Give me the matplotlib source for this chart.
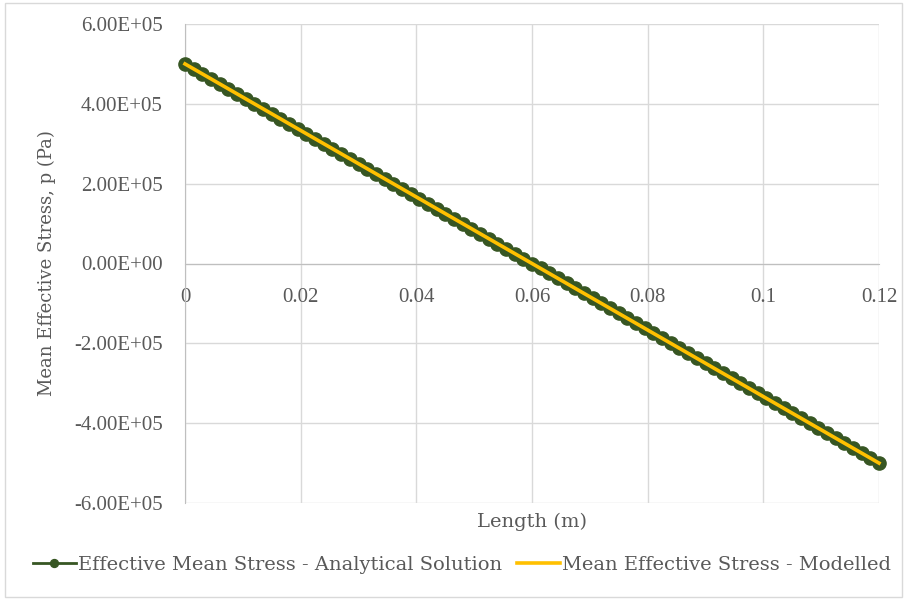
import numpy as np
import matplotlib
matplotlib.use("Agg")
import matplotlib.pyplot as plt
from matplotlib.ticker import FuncFormatter, MultipleLocator
from matplotlib.patches import Rectangle

# Length along the specimen (mm)
length_mm = [
    0, 1.5, 3.0, 4.5, 6.0, 7.5, 9.0, 10.5, 12.0, 13.5,
    15.0, 16.5, 18.0, 19.5, 21.0, 22.5, 24.0, 25.5, 27.0, 28.5,
    30.0, 31.5, 33.0, 34.5, 36.0, 37.5, 39.0, 40.5, 42.0, 43.5,
    45.0, 46.5, 48.0, 49.5, 51.0, 52.5, 54.0, 55.5, 57.0, 58.5,
    60.0, 61.5, 63.0, 64.5, 66.0, 67.5, 69.0, 70.5, 72.0, 73.5,
    75.0, 76.5, 78.0, 79.5, 81.0, 82.5, 84.0, 85.5, 87.0, 88.5,
    90.0, 91.5, 93.0, 94.5, 96.0, 97.5, 99.0, 100.5, 102.0, 103.5,
    105.0, 106.5, 108.0, 109.5, 111.0, 112.5, 114.0, 115.5, 117.0, 118.5,
    120.0,
]

# Analytical mean effective stress (kPa)
analytical_kpa = [
    500, 487.5, 475, 462.5, 450, 437.5, 425, 412.5, 400, 387.5,
    375, 362.5, 350, 337.5, 325, 312.5, 300, 287.5, 275, 262.5,
    250, 237.5, 225, 212.5, 200, 187.5, 175, 162.5, 150, 137.5,
    125, 112.5, 100, 87.5, 75, 62.5, 50, 37.5, 25, 12.5,
    0, -12.5, -25, -37.5, -50, -62.5, -75, -87.5, -100, -112.5,
    -125, -137.5, -150, -162.5, -175, -187.5, -200, -212.5, -225, -237.5,
    -250, -262.5, -275, -287.5, -300, -312.5, -325, -337.5, -350, -362.5,
    -375, -387.5, -400, -412.5, -425, -437.5, -450, -462.5, -475, -487.5,
    -500,
]

# Modelled result sits on top of the analytical one
modelled_kpa = list(analytical_kpa)

labels = ["Effective Mean Stress - Analytical Solution",
          "Mean Effective Stress - Modelled"]

GREEN = "#375623"
YELLOW = "#FFC000"
GRID = "#D9D9D9"
TEXT = "#595959"

NUM_FONT = ["Liberation Serif", "DejaVu Serif"]
LBL_FONT = ["DejaVu Serif"]

plt.rcParams["font.family"] = NUM_FONT

W, H = 906, 600
fig = plt.figure(figsize=(W / 100, H / 100), dpi=100)
fig.patches.append(Rectangle((5 / W, 3 / H), 897 / W, 594 / H, transform=fig.transFigure,
                             fill=False, edgecolor=GRID, linewidth=1))

ax = fig.add_axes([185 / W, 97 / H, 694 / W, 479 / H])

x = np.array(length_mm) / 1000.0
ax.plot(x, np.array(analytical_kpa) * 1e3, color=GREEN, lw=2, marker="o", ms=9.5,
        mec=GREEN, mfc=GREEN, label=labels[0], zorder=3, clip_on=False)
ax.plot(x, np.array(modelled_kpa) * 1e3, color=YELLOW, lw=2.6, label=labels[1], zorder=4,
        clip_on=False)

ax.set_xlim(0, 0.12)
ax.set_ylim(-6e5, 6e5)
ax.xaxis.set_major_locator(MultipleLocator(0.02))
ax.yaxis.set_major_locator(MultipleLocator(2e5))
ax.xaxis.set_major_formatter(FuncFormatter(lambda v, p: "0" if abs(v) < 1e-12 else f"{v:g}"))
ax.yaxis.set_major_formatter(FuncFormatter(lambda v, p: f"{v:.2E}"))

ax.grid(True, color=GRID, lw=1)
ax.set_axisbelow(True)
for s in ["top", "right"]:
    ax.spines[s].set_visible(False)
ax.spines["bottom"].set_position(("data", 0))
ax.spines["bottom"].set_color("#BFBFBF")
ax.spines["left"].set_color("#BFBFBF")
ax.tick_params(axis="both", length=0, colors=TEXT, labelsize=15)
ax.tick_params(axis="x", pad=18)
ax.tick_params(axis="y", pad=16)

ax.set_xlabel("Length (m)", color=TEXT, fontsize=14, va="center", family=LBL_FONT)
ax.xaxis.set_label_coords(0.5, -0.04)
ax.set_ylabel("Mean Effective Stress, p (Pa)", color=TEXT, fontsize=13, va="center",
              family=LBL_FONT)
ax.yaxis.set_label_coords(-0.199, 0.5)

handles, lbls = ax.get_legend_handles_labels()
leg = fig.legend(handles, lbls, loc="center", bbox_to_anchor=(462 / W, 1 - 565 / H), ncol=2,
                 frameon=False, handlelength=2.2, handletextpad=0.1, columnspacing=0.8,
                 markerscale=0.6, prop={"family": LBL_FONT, "size": 14})
for t in leg.get_texts():
    t.set_color(TEXT)

fig.savefig("out.png", dpi=100)
